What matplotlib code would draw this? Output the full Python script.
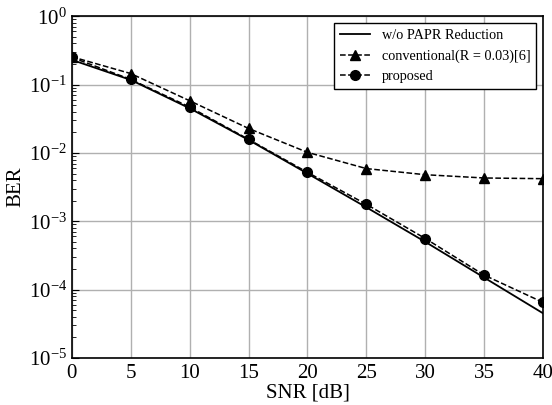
import numpy as np
import matplotlib.pyplot as plt

plt.rcParams['font.family'] = ['Liberation Serif', 'DejaVu Serif']
plt.rcParams['mathtext.fontset'] = 'stix'

snr = [0, 5, 10, 15, 20, 25, 30, 35, 40]
ber_no_papr = [0.23, 0.117, 0.045, 0.0155, 0.0050, 0.00160, 0.00050, 0.000150, 0.000045]
ber_conv = [0.255, 0.145, 0.058, 0.0228, 0.0102, 0.0059, 0.0048, 0.0043, 0.0042]
ber_prop = [0.25, 0.119, 0.047, 0.0158, 0.0052, 0.00177, 0.00056, 0.000163, 0.000065]

fig = plt.figure(figsize=(5.52, 4.05), dpi=100)
ax = fig.add_axes([0.130, 0.116, 0.854, 0.844])

ax.semilogy(snr, ber_no_papr, '-', color='black', lw=1.3, label='w/o PAPR Reduction')
ax.semilogy(snr, ber_conv, '--', color='black', lw=1.1, marker='^', ms=7,
            label='conventional(R = 0.03)[6]')
ax.semilogy(snr, ber_prop, '--', color='black', lw=1.1, marker='o', ms=7,
            label='proposed')

ax.set_xlim(0, 40)
ax.set_ylim(1e-5, 1)
ax.set_xticks(np.arange(0, 41, 5))
ax.grid(True, which='major', color='#b0b0b0', lw=1)
ax.set_axisbelow(True)
ax.tick_params(axis='both', which='both', direction='in', top=False, right=False)
ax.tick_params(axis='x', which='major', length=0, pad=4, labelsize=15)
ax.tick_params(axis='y', which='major', length=5, labelsize=15)
ax.tick_params(axis='y', which='minor', length=3)
for s in ax.spines.values():
    s.set_linewidth(1.2)

ax.set_xlabel('SNR [dB]', fontsize=15, labelpad=1)
ax.set_ylabel('BER', fontsize=15, labelpad=2)

leg = ax.legend(loc='upper right', fontsize=10.3, fancybox=False, framealpha=1,
                edgecolor='black', borderaxespad=0.5, handlelength=2.1,
                handletextpad=0.8, labelspacing=0.5)
leg.get_frame().set_linewidth(1.0)

fig.savefig('out.png', dpi=100)
